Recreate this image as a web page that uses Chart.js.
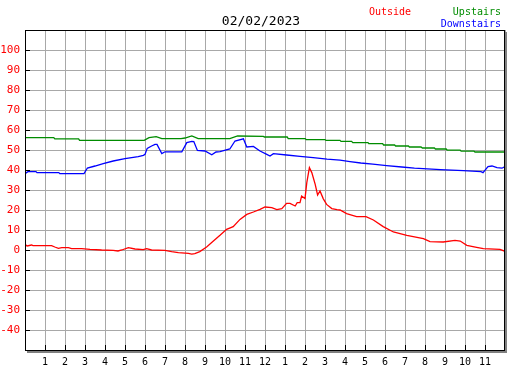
<!DOCTYPE html>
<html><head><meta charset="utf-8">
<script src="https://cdn.jsdelivr.net/npm/chart.js@4/dist/chart.umd.min.js"></script>
<style>html,body{margin:0;padding:0;background:#fff;}canvas{display:block;}</style>
</head><body>
<canvas id="c" width="527" height="370"></canvas>
<script>
const chartTitle = '02/02/2023';
const seriesNames = ['Outside', 'Upstairs', 'Downstairs'];
const seriesColors = ['#ff0000', '#008c00', '#0000ff'];
const hourLabels = ['', '1','2','3','4','5','6','7','8','9','10','11','12','1','2','3','4','5','6','7','8','9','10','11',''];
const yTickValues = [100, 90, 80, 70, 60, 50, 40, 30, 20, 10, 0, -10, -20, -30, -40];

const outsideHours = [0,0.1,0.33,0.4,1.33,1.49,1.67,1.84,2.17,2.33,2.83,3.25,3.83,4.41,4.65,4.84,5.17,5.5,5.91,6.08,6.33,7.0,7.33,7.67,8.17,8.34,8.49,8.74,9.08,9.42,9.75,10.08,10.41,10.75,11.09,11.42,11.75,12.0,12.34,12.59,12.84,13.08,13.25,13.51,13.61,13.75,13.83,14.0,14.09,14.22,14.34,14.51,14.63,14.75,14.91,15.08,15.34,15.6,15.75,16.08,16.58,17.05,17.42,17.91,18.42,19.09,19.92,20.25,20.91,21.5,21.76,22.09,22.58,22.92,23.75,24];
const outsideTemps = [2.9,2.0,2.5,2.2,2.2,1.5,0.85,1.2,1.2,0.7,0.7,0.35,0,-0.15,-0.5,0,1.2,0.5,0.2,0.7,0,-0.15,-0.8,-1.3,-1.7,-2.1,-1.8,-0.8,1.5,4.5,7.35,10.35,11.7,15.3,17.8,19,20.3,21.5,21.2,20.2,20.7,23.3,23.3,22,23.7,23.7,27,25.7,33.7,41.2,38.7,32.8,27.5,29.5,25.7,22.8,20.7,20.2,20,18.2,16.7,16.7,15,11.7,9,7.35,5.7,4.2,4,4.85,4.5,2.35,1.35,0.7,0.35,-0.65];

const upstairsHours = [0,1.44,1.49,2.68,2.73,5.96,6.2,6.56,6.84,7.8,8.0,8.34,8.66,10.24,10.63,11.92,11.97,13.11,13.16,14.01,14.06,15.0,15.05,15.75,15.8,16.33,16.39,17.15,17.19,17.88,17.93,18.48,18.53,19.17,19.22,19.8,19.87,20.47,20.52,21.06,21.11,21.76,21.81,22.45,22.5,24];
const upstairsTemps = [56.2,56.2,55.6,55.6,54.8,54.8,56.2,56.7,55.7,55.7,56,57,55.7,55.7,57,56.8,56.5,56.5,55.7,55.7,55.2,55.2,54.8,54.8,54.3,54.3,53.7,53.7,53.2,53.2,52.5,52.5,52,52,51.5,51.5,51,51,50.5,50.5,49.9,49.9,49.4,49.4,49,49];

const downstairsHours = [0,0.15,0.55,0.6,1.69,1.74,2.95,3.12,3.5,3.91,4.41,5.0,5.66,5.92,6.0,6.11,6.33,6.5,6.6,6.84,7.0,7.84,8.09,8.34,8.44,8.62,9.0,9.34,9.55,9.75,10.24,10.5,10.92,11.09,11.42,11.75,12.09,12.25,12.42,13.08,13.75,14.41,15.1,15.75,16.25,16.79,17.39,18.08,18.84,19.47,20.77,21.92,22.8,22.9,23.15,23.35,23.6,23.85,24];
const downstairsTemps = [38.2,39.2,39.2,38.7,38.7,38.2,38.2,41.0,42,43.2,44.5,45.7,46.7,47.3,47.8,50.8,52,52.8,52.8,48.2,49.1,49.1,53.7,54.3,54.2,49.8,49.5,47.6,49,49.2,50.5,54.5,55.6,51.5,51.8,49.5,47.8,47,48.2,47.5,46.8,46.2,45.4,44.9,44.2,43.5,42.9,42.2,41.5,40.9,40.2,39.7,39.2,38.7,41.7,42,41.2,40.9,41.7];

const mono = "'DejaVu Sans Mono', monospace";
const toPoints = (xs, ys) => xs.map((x, i) => ({x: x, y: ys[i]}));

const framePlugin = {
  id: 'frame',
  beforeDraw(chart) {
    const ctx = chart.ctx;
    ctx.save();
    ctx.fillStyle = '#ffffff';
    ctx.fillRect(0, 0, chart.width, chart.height);
    ctx.restore();
  },
  afterDraw(chart) {
    const ctx = chart.ctx;
    const a = chart.chartArea;
    const xs = chart.scales.x, ys = chart.scales.y;
    ctx.save();
    // shadow
    ctx.fillStyle = '#808080';
    ctx.fillRect(a.right, a.top + 2, 2, a.bottom - a.top + 1);
    ctx.fillRect(a.left + 2, a.bottom + 1, a.right - a.left, 2);
    // frame
    ctx.strokeStyle = '#000000';
    ctx.lineWidth = 1;
    ctx.strokeRect(a.left + 0.5, a.top + 0.5, a.right - a.left - 1, a.bottom - a.top + 0);
    // inner tick marks
    ctx.beginPath();
    yTickValues.forEach(v => {
      const y = Math.round(ys.getPixelForValue(v)) + 0.5;
      ctx.moveTo(a.left, y); ctx.lineTo(a.left + 5, y);
    });
    for (let h = 1; h < 24; h++) {
      const x = Math.round(xs.getPixelForValue(h)) + 0.5;
      ctx.moveTo(x, a.bottom); ctx.lineTo(x, a.bottom - 5);
    }
    ctx.stroke();
    // title
    ctx.fillStyle = '#000000';
    ctx.font = '13px ' + mono;
    ctx.textAlign = 'center';
    ctx.textBaseline = 'alphabetic';
    ctx.fillText(chartTitle, 261, 25);
    // legend
    ctx.font = '10px ' + mono;
    ctx.textAlign = 'left';
    ctx.fillStyle = seriesColors[0];
    ctx.fillText(seriesNames[0], 369, 15);
    ctx.textAlign = 'right';
    ctx.fillStyle = seriesColors[1];
    ctx.fillText(seriesNames[1], 501, 15);
    ctx.fillStyle = seriesColors[2];
    ctx.fillText(seriesNames[2], 501, 27);
    ctx.restore();
  }
};

new Chart(document.getElementById('c'), {
  type: 'line',
  data: {
    datasets: [
      {label: seriesNames[1], data: toPoints(upstairsHours, upstairsTemps), borderColor: seriesColors[1]},
      {label: seriesNames[2], data: toPoints(downstairsHours, downstairsTemps), borderColor: seriesColors[2]},
      {label: seriesNames[0], data: toPoints(outsideHours, outsideTemps), borderColor: seriesColors[0]}
    ]
  },
  options: {
    responsive: false,
    animation: false,
    devicePixelRatio: 1,
    layout: {padding: {top: 30, right: 22, left: 0, bottom: 0}},
    plugins: {legend: {display: false}, title: {display: false}, tooltip: {enabled: false}},
    elements: {point: {radius: 0}, line: {borderWidth: 1.3, tension: 0, fill: false}},
    scales: {
      x: {
        type: 'linear', min: 0, max: 24,
        ticks: {stepSize: 1, autoSkip: false, maxRotation: 0, color: '#000000', font: {family: mono, size: 10}, padding: 6,
          callback: (v) => hourLabels[v] !== undefined ? hourLabels[v] : ''},
        grid: {color: '#a8a8a8', drawTicks: false, lineWidth: 1},
        border: {display: false},
        afterFit: (s) => { s.height = 20; }
      },
      y: {
        min: -50, max: 110,
        ticks: {stepSize: 10, color: '#ff0000', font: {family: mono, size: 11}, padding: 5,
          callback: (v) => yTickValues.includes(v) ? String(v) : ''},
        grid: {color: '#a8a8a8', drawTicks: false, lineWidth: 1},
        border: {display: false},
        afterFit: (s) => { s.width = 25; }
      }
    }
  },
  plugins: [framePlugin]
});
</script>
</body></html>
